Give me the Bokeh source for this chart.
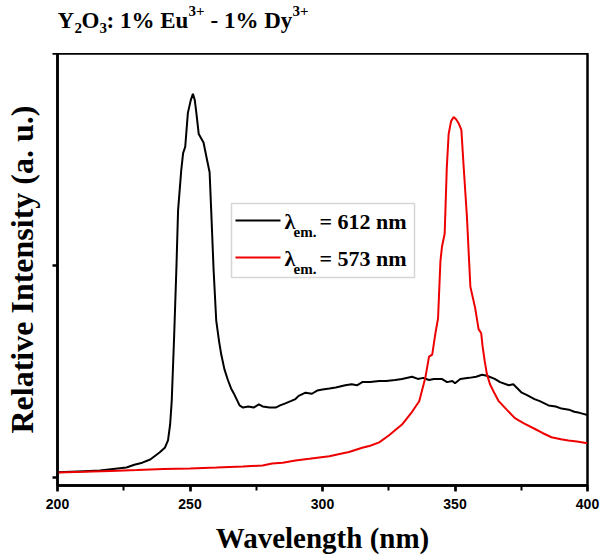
from bokeh.plotting import figure
from bokeh.layouts import column
from bokeh.models import (Label, BoxAnnotation, SingleIntervalTicker, FixedTicker, ColumnDataSource, Range1d)
from bokeh.embed import file_html
from bokeh.resources import INLINE

# ---- data ----
wl_612 = [200, 210, 216, 221, 226, 229, 232, 235, 238.5, 240.5, 241.7, 242.5, 243.1, 244.0,
          244.9, 245.5, 246.7, 247.4, 248.2, 249.2, 250.3, 251.1, 251.8, 252.4, 253.3, 254.2,
          255.1, 256.4, 257.4, 258.0, 258.9, 259.9, 261.0, 261.8, 263.0, 264.3, 265.5, 266.8,
          268.7, 270, 272, 274, 276, 277.4, 280, 282.3, 284, 286, 288, 289.8, 291, 293.6, 296,
          298, 300, 302.6, 305, 308.6, 311, 313, 315, 318, 321.4, 324, 327.4, 330, 333.8, 336,
          338, 340.2, 342, 345, 347, 349, 350, 352, 355.3, 358, 360.2, 362, 365, 367, 370.3,
          372, 375.2, 377, 380, 382, 385.3, 388, 390.2, 393, 395, 397, 400]
int_612 = [0.025, 0.03, 0.033, 0.04, 0.047, 0.06, 0.07, 0.085, 0.118, 0.14, 0.175, 0.25, 0.36, 0.66,
           1.00, 1.26, 1.45, 1.53, 1.56, 1.72, 1.78, 1.81, 1.78, 1.72, 1.62, 1.60,
           1.58, 1.50, 1.44, 1.26, 0.98, 0.74, 0.64, 0.58, 0.51, 0.46, 0.42, 0.39,
           0.34, 0.33, 0.335, 0.33, 0.345, 0.335, 0.33, 0.33, 0.34, 0.35, 0.36, 0.37, 0.385, 0.40, 0.395,
           0.41, 0.415, 0.42, 0.425, 0.435, 0.44, 0.435, 0.45, 0.45, 0.455, 0.455, 0.46, 0.465, 0.475, 0.465,
           0.47, 0.46, 0.465, 0.465, 0.45, 0.455, 0.445, 0.465, 0.47, 0.475, 0.485, 0.48, 0.465, 0.45, 0.435,
           0.44, 0.40, 0.39, 0.37, 0.36, 0.34, 0.335, 0.325, 0.32, 0.31, 0.305, 0.295]

wl_573 = [200, 210, 220, 230, 240, 250, 260, 270, 277.4, 281, 285, 289.8, 295, 302.6, 306, 310,
          315, 318, 321.4, 325, 330, 333.8, 336.5, 338.8, 340.2, 341.4, 342.6, 343.6, 344.5,
          345.1, 346.1, 346.9, 347.6, 348.5, 349.5, 350.4, 351.4, 352.4, 353.3, 354.5, 355.8,
          357.6, 358.9, 359.9, 360.4, 361.2, 362, 363.2, 364.8, 366.5, 369.5, 372.6, 376, 380,
          383, 386.4, 390, 392.8, 396, 400]
int_573 = [0.024, 0.027, 0.031, 0.035, 0.04, 0.043, 0.047, 0.052, 0.057, 0.066, 0.07, 0.08, 0.088, 0.10, 0.11, 0.12,
           0.14, 0.15, 0.166, 0.198, 0.25, 0.31, 0.36, 0.47, 0.57, 0.58, 0.68, 0.75, 1.02,
           1.09, 1.15, 1.46, 1.62, 1.68, 1.70, 1.69, 1.67, 1.64, 1.46, 1.23, 0.90,
           0.80, 0.70, 0.68, 0.62, 0.55, 0.49, 0.44, 0.40, 0.36, 0.32, 0.28, 0.255, 0.23,
           0.21, 0.19, 0.18, 0.175, 0.17, 0.162]

x_ticks_interval = 50
y_ticks = [0, 1, 2]
series_colors = ["black", "#ee0000"]
legend_labels = ["= 612 nm", "= 573 nm"]
title_pieces = ["Y", "2", "O", "3", ": 1% Eu", "3+", "- 1% Dy", "3+"]

SERIF = "Liberation Serif"
SANS = "Liberation Sans"

# ---------- title strip (separate figure above the plot; frame aligned with the plot's frame) ----------
t = figure(frame_width=530, frame_height=53, x_range=Range1d(55, 585), y_range=Range1d(53, 0),
           output_backend="svg", toolbar_location=None, x_axis_location=None, y_axis_location=None,
           min_border=0, min_border_left=55, min_border_right=15, min_border_top=0, min_border_bottom=0,
           background_fill_color="white", border_fill_color="white")
t.outline_line_color = None
t.grid.visible = False

# (x start, y centre, font size) for each piece: main text, subscripts, superscripts
title_layout = [(55, 20, 23), (72, 27, 15), (79, 20, 23), (97, 27, 15),
                (104, 20, 23), (186, 10, 15), (208, 20, 23), (290, 10, 15)]
for s, (x0, y0, fs) in zip(title_pieces, title_layout):
    t.add_layout(Label(x=x0, y=y0, text=s, text_font=SERIF, text_font_style="bold",
                       text_font_size=f"{fs}px", text_color="black",
                       text_baseline="middle", text_align="left"))

# ---------- main plot ----------
p = figure(frame_width=530, frame_height=432, x_range=(200, 400), y_range=(-0.0377, 2.0),
           output_backend="svg", toolbar_location=None,
           min_border_left=55, min_border_right=15, min_border_top=0, min_border_bottom=73,
           background_fill_color="white", border_fill_color="white")
p.outline_line_color = "black"
p.outline_line_width = 2.5
p.outline_line_alpha = 1
p.grid.visible = False


def dx(page_x):
    return 200 + (page_x - 55) / 2.65


def dy(page_y):
    return (477 - page_y) / 212.0


# legend box (behind the curves)
p.add_layout(BoxAnnotation(left=dx(229), right=dx(412), top=dy(203), bottom=dy(277),
                           fill_color="white", fill_alpha=1, line_color="#777777",
                           line_width=1.5, level="underlay"))

p.line(wl_612, int_612, line_color=series_colors[0], line_width=2)
p.line(wl_573, int_573, line_color=series_colors[1], line_width=2)

# x axis
xa = p.xaxis[0]
xa.ticker = SingleIntervalTicker(interval=x_ticks_interval, num_minor_ticks=2)
xa.axis_line_width = 2.5
xa.major_tick_line_width = 2.5
xa.minor_tick_line_width = 2
xa.major_tick_in = 0
xa.major_tick_out = 6
xa.minor_tick_in = 0
xa.minor_tick_out = 5
xa.major_label_text_font = SANS
xa.major_label_text_font_style = "bold"
xa.major_label_text_font_size = "14px"
xa.major_label_text_color = "black"
xa.major_label_standoff = 7
xa.axis_label = "Wavelength (nm)"
xa.axis_label_text_font = SERIF
xa.axis_label_text_font_style = "bold"
xa.axis_label_text_font_size = "29px"
xa.axis_label_text_color = "black"
xa.axis_label_standoff = 10

# y axis
ya = p.yaxis[0]
ya.ticker = FixedTicker(ticks=y_ticks, minor_ticks=[])
ya.axis_line_width = 2.5
ya.major_tick_line_width = 2.5
ya.major_tick_in = 0
ya.major_tick_out = 5
ya.major_label_text_font_size = "0px"
ya.major_label_standoff = 0
ya.axis_label = "Relative Intensity (a. u.)"
ya.axis_label_text_font = SERIF
ya.axis_label_text_font_style = "bold"
ya.axis_label_text_font_size = "32px"
ya.axis_label_text_color = "black"
ya.axis_label_standoff = 13


def txt(page_x, page_y, s, size):
    p.add_layout(Label(x=dx(page_x), y=dy(page_y), text=s, text_font=SERIF,
                       text_font_style="bold", text_font_size=f"{size}px",
                       text_color="black", text_baseline="middle", text_align="left",
                       level="overlay"))


# legend entries
rows_y = [220, 257]
src = ColumnDataSource(dict(x0=[dx(233)] * 2, x1=[dx(278)] * 2,
                            y0=[dy(v) for v in rows_y], y1=[dy(v) for v in rows_y],
                            c=series_colors))
p.segment("x0", "y0", "x1", "y1", source=src, line_color="c", line_width=2)
for ry, lab in zip(rows_y, legend_labels):
    txt(282, ry + 1, "λ", 22)
    txt(291, ry + 11, "em.", 15)
    txt(317, ry + 1, lab, 22)

layout = column(t, p, spacing=0)
open("out.html", "w").write(file_html(layout, INLINE))
